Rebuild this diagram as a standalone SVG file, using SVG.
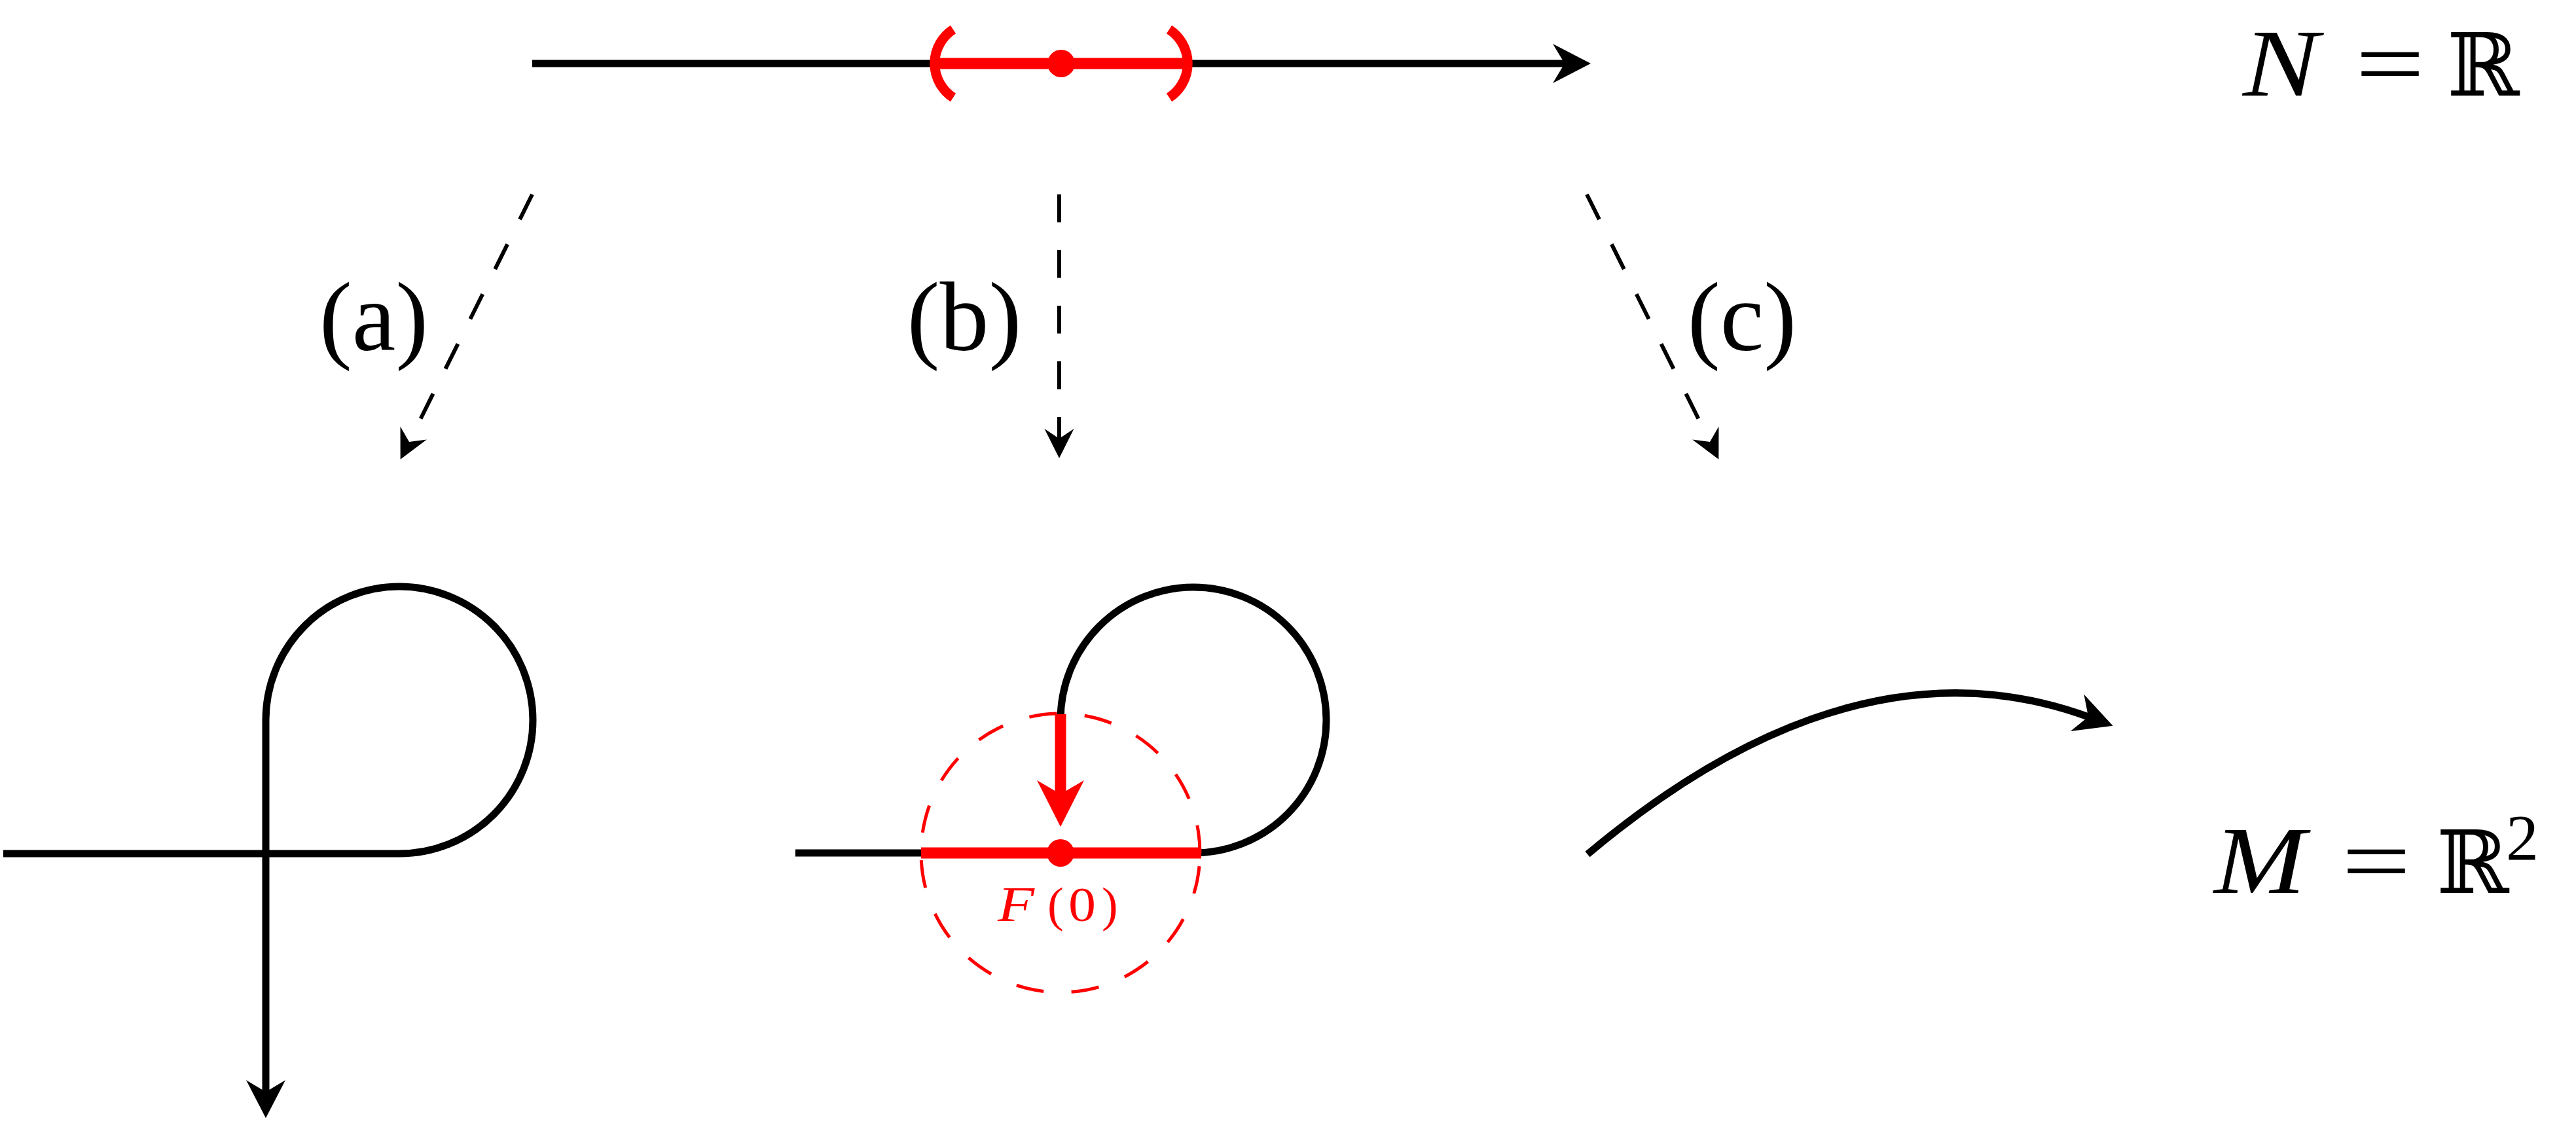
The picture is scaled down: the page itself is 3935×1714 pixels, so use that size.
<svg xmlns="http://www.w3.org/2000/svg" width="3935" height="1714" viewBox="0 0 3935 1714">
<style>
.blk{fill:none;stroke:#000;stroke-width:11;}
.red{fill:none;stroke:#f00;stroke-width:17;}
.par{fill:none;stroke:#f00;stroke-width:15;}
.dash{fill:none;stroke:#000;stroke-width:6;stroke-dasharray:42.5 42.5;}
.rdash{fill:none;stroke:#f00;stroke-width:5;stroke-dasharray:42.5 42.5;}
.lbl{font-family:"Liberation Serif","Times New Roman",serif;font-size:150px;text-anchor:middle;fill:#000;}
.mi{font-family:"Liberation Serif","Times New Roman",serif;font-style:italic;}
.rm{font-family:"Liberation Serif","Times New Roman",serif;}
.bb{font-family:"DejaVu Serif","DejaVu Sans",serif;}
</style>
<defs>
<marker id="big" markerUnits="userSpaceOnUse" viewBox="-20 -32 64 64" refX="0" refY="0" markerWidth="64" markerHeight="64" orient="auto" overflow="visible">
<path d="M40,0 L-18,-30 L0,0 L-18,30 Z" fill="#000"/>
</marker>
<marker id="small" markerUnits="userSpaceOnUse" viewBox="-16 -24 48 48" refX="0" refY="0" markerWidth="48" markerHeight="48" orient="auto" overflow="visible">
<path d="M30,0 L-15,-22.5 L0,0 L-15,22.5 Z" fill="#000"/>
</marker>
<marker id="redbig" markerUnits="userSpaceOnUse" viewBox="-22 -38 74 76" refX="0" refY="0" markerWidth="74" markerHeight="76" orient="auto" overflow="visible">
<path d="M50,0 L-21,-36 L0,0 L-21,36 Z" fill="#f00"/>
</marker>
</defs>

<g id="domain-N">
<path class="blk" d="M813,97 H2390" marker-end="url(#big)"/>
<path class="red" d="M1427,97 H1815"/>
<path class="par" d="M1456,45 A62 62 0 0 0 1456,149"/>
<path class="par" d="M1786,45 A62 62 0 0 1 1786,149"/>
<circle cx="1621" cy="97" r="21" fill="#f00"/>
</g>

<g id="label-N">
<text class="mi" x="3426" y="146" font-size="146" textLength="116" lengthAdjust="spacingAndGlyphs">N</text>
<text class="rm" x="3598" y="146" font-size="146" textLength="106" lengthAdjust="spacingAndGlyphs">=</text>
<text class="bb" x="3738" y="146" font-size="133">ℝ</text>
</g>

<g id="connectors">
<path class="dash" d="M813,297 L625,675" marker-end="url(#small)"/>
<path class="dash" d="M1618,297 V670" marker-end="url(#small)"/>
<path class="dash" d="M2424,297 L2612,675" marker-end="url(#small)"/>
</g>

<g id="label-a"><text class="lbl" x="571" y="535">(a)</text></g>
<g id="label-b"><text class="lbl" x="1473" y="535">(b)</text></g>
<g id="label-c"><text class="lbl" x="2661" y="535">(c)</text></g>

<g id="image-a">
<path class="blk" d="M5,1304 H610 A204 204 0 1 0 406,1100 V1668" marker-end="url(#big)"/>
</g>

<g id="image-b">
<path class="blk" d="M1215,1303 H1823 A203 203 0 1 0 1620,1100"/>
<path class="rdash" d="M1833,1303 A213 213 0 1 0 1407,1303 A213 213 0 1 0 1833,1303"/>
<path class="red" d="M1407,1303 H1835"/>
<path class="red" d="M1620,1091 V1213" marker-end="url(#redbig)"/>
<circle cx="1620" cy="1303" r="21" fill="#f00"/>
<g fill="#f00">
<text class="mi" x="1524" y="1407" font-size="76" textLength="56" lengthAdjust="spacingAndGlyphs">F</text>
<text class="rm" x="1600" y="1407" font-size="74">(</text>
<text class="rm" x="1632" y="1407" font-size="74" textLength="42" lengthAdjust="spacingAndGlyphs">0</text>
<text class="rm" x="1683" y="1407" font-size="74">)</text>
</g>
</g>

<g id="image-c">
<path class="blk" d="M2425,1305 Q2831,964 3190,1095" marker-end="url(#big)"/>
</g>

<g id="label-M">
<text class="mi" x="3382" y="1364" font-size="146" textLength="140" lengthAdjust="spacingAndGlyphs">M</text>
<text class="rm" x="3577" y="1364" font-size="146" textLength="106" lengthAdjust="spacingAndGlyphs">=</text>
<text class="bb" x="3722" y="1364" font-size="133">ℝ</text>
<text class="rm" x="3828" y="1313" font-size="100">2</text>
</g>
</svg>
